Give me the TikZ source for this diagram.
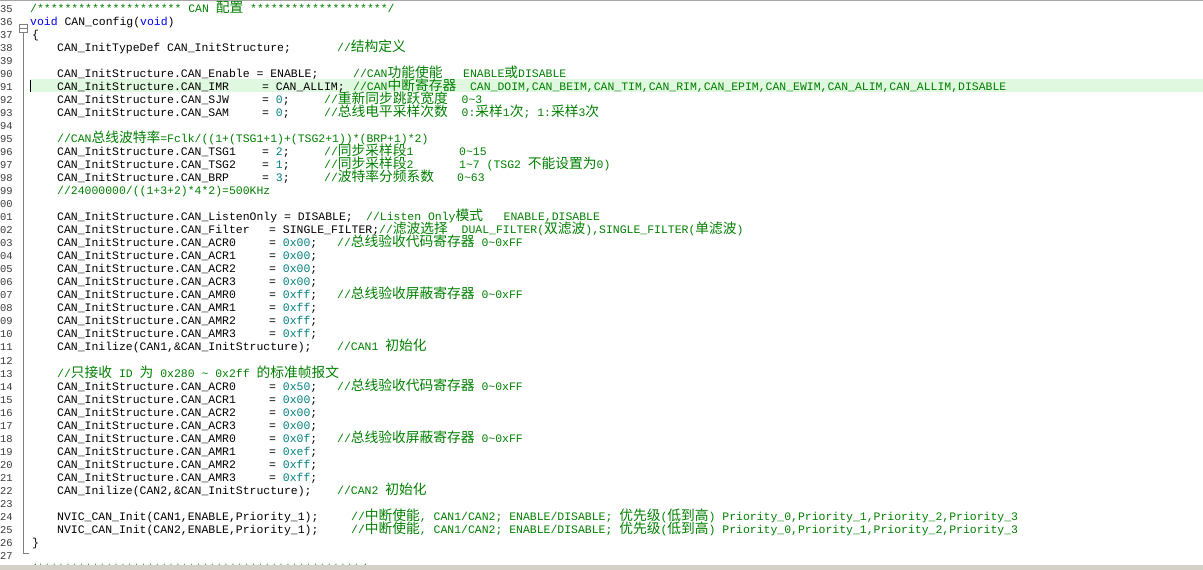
\documentclass[tikz,border=0pt]{standalone}
\usepackage{fontspec}
\setmonofont{Liberation Mono}
\newfontfamily\cjkf{Noto Sans CJK SC}[Scale=1.2]
\newcommand\zh[1]{{\cjkf #1}}
\newcommand\tl{\textasciitilde}
\definecolor{cmt}{RGB}{0,128,0}
\definecolor{num}{RGB}{0,128,128}
\definecolor{kw}{RGB}{0,0,255}
\definecolor{hl}{RGB}{224,248,224}
\definecolor{bar}{RGB}{212,208,200}
\definecolor{lnum}{RGB}{60,60,60}
\tikzset{txt/.style={anchor=base west,inner sep=0pt,font=\ttfamily\fontsize{11.5}{13}\selectfont}}
\newcommand\seg[4][black]{\node[txt,text=#1] (l#2x#3) at (#3,{13+13*#2}) {#4};}
\newcommand\asg[3]{\seg{#1}{57}{CAN\_InitStructure.CAN\_#2}\seg{#1}{269}{= {\color{num}#3};}}
\newcommand\asgb[3]{\seg{#1}{57}{CAN\_InitStructure.CAN\_#2}\seg{#1}{262}{= {\color{num}#3};}}
\begin{document}
\begin{tikzpicture}[x=1bp,y=-1bp]
\fill[white] (0,0) rectangle (1203,570);
\useasboundingbox (0,0) rectangle (1203,570);
\fill[hl] (30,79) rectangle (1203,92);
\draw[black,line width=0.8bp] (30,80) -- (30,92);
\draw[gray!70] (0,0.5) -- (1203,0.5);
% line numbers
\foreach \n [count=\i from 0] in {35,36,37,38,39,90,91,92,93,94,95,96,97,98,99,00,01,02,03,04,05,06,07,08,09,10,11,12,13,14,15,16,17,18,19,20,21,22,23,24,25,26,27,28}
  \node[txt,text=lnum,font=\ttfamily\fontsize{10.5}{13}\selectfont] (n\i) at (0,{13+13*\i}) {\n};
% fold line
\node[draw=gray,minimum size=8bp,inner sep=0pt,fill=white] (fold) at (23,28) {};
\draw[gray] (19.5,28) -- (26.5,28);
\coordinate (foldend) at (29,553);
\draw[gray] (fold.south) |- (foldend);
% code
\seg[cmt]{0}{30}{/********************* CAN \zh{配置} ********************/}
\seg{1}{30}{{\color{kw}void} CAN\_config({\color{kw}void})}
\seg{2}{32}{\{}
\seg{3}{57}{CAN\_InitTypeDef CAN\_InitStructure;}\seg[cmt]{3}{337}{//\zh{结构定义}}
\seg{5}{57}{CAN\_InitStructure.CAN\_Enable = ENABLE;}\seg[cmt]{5}{353}{//CAN\zh{功能使能}\ \ \ ENABLE\zh{或}DISABLE}
\seg{6}{57}{CAN\_InitStructure.CAN\_IMR}\seg{6}{262}{= CAN\_ALLIM;}
\seg[cmt]{6}{353}{//CAN\zh{中断寄存器}\ \ CAN\_DOIM,CAN\_BEIM,CAN\_TIM,CAN\_RIM,CAN\_EPIM,CAN\_EWIM,CAN\_ALIM,CAN\_ALLIM,DISABLE}
\asgb{7}{SJW}{0}\seg[cmt]{7}{324}{//\zh{重新同步跳跃宽度}\ \ 0\tl3}
\asgb{8}{SAM}{0}\seg[cmt]{8}{324}{//\zh{总线电平采样次数}\ \ 0:\zh{采样}1\zh{次}; 1:\zh{采样}3\zh{次}}
\seg[cmt]{10}{57}{//CAN\zh{总线波特率}=Fclk/((1+(TSG1+1)+(TSG2+1))*(BRP+1)*2)}
\asgb{11}{TSG1}{2}\seg[cmt]{11}{324}{//\zh{同步采样段}1}\seg[cmt]{11}{459}{0\tl15}
\asgb{12}{TSG2}{1}\seg[cmt]{12}{324}{//\zh{同步采样段}2}\seg[cmt]{12}{459}{1\tl7 (TSG2 \zh{不能设置为}0)}
\asgb{13}{BRP}{3}\seg[cmt]{13}{324}{//\zh{波特率分频系数}}\seg[cmt]{13}{457}{0\tl63}
\seg[cmt]{14}{57}{//24000000/((1+3+2)*4*2)=500KHz}
\seg{16}{57}{CAN\_InitStructure.CAN\_ListenOnly = DISABLE;}\seg[cmt]{16}{366}{//Listen Only\zh{模式}\ \ \ ENABLE,DISABLE}
\seg{17}{57}{CAN\_InitStructure.CAN\_Filter}
\seg{17}{269}{= SINGLE\_FILTER;{\color{cmt}//\zh{滤波选择}\ \ DUAL\_FILTER(\zh{双滤波}),SINGLE\_FILTER(\zh{单滤波})}}
\asg{18}{ACR0}{0x00}\seg[cmt]{18}{337}{//\zh{总线验收代码寄存器} 0\tl0xFF}
\asg{19}{ACR1}{0x00}
\asg{20}{ACR2}{0x00}
\asg{21}{ACR3}{0x00}
\asg{22}{AMR0}{0xff}\seg[cmt]{22}{337}{//\zh{总线验收屏蔽寄存器} 0\tl0xFF}
\asg{23}{AMR1}{0xff}
\asg{24}{AMR2}{0xff}
\asg{25}{AMR3}{0xff}
\seg{26}{57}{CAN\_Inilize(CAN1,\&CAN\_InitStructure);}\seg[cmt]{26}{337}{//CAN1 \zh{初始化}}
\seg[cmt]{28}{57}{//\zh{只接收} ID \zh{为} 0x280 \tl\ 0x2ff \zh{的标准帧报文}}
\asg{29}{ACR0}{0x50}\seg[cmt]{29}{337}{//\zh{总线验收代码寄存器} 0\tl0xFF}
\asg{30}{ACR1}{0x00}
\asg{31}{ACR2}{0x00}
\asg{32}{ACR3}{0x00}
\asg{33}{AMR0}{0x0f}\seg[cmt]{33}{337}{//\zh{总线验收屏蔽寄存器} 0\tl0xFF}
\asg{34}{AMR1}{0xef}
\asg{35}{AMR2}{0xff}
\asg{36}{AMR3}{0xff}
\seg{37}{57}{CAN\_Inilize(CAN2,\&CAN\_InitStructure);}\seg[cmt]{37}{337}{//CAN2 \zh{初始化}}
\seg{39}{57}{NVIC\_CAN\_Init(CAN1,ENABLE,Priority\_1);}
\seg[cmt]{39}{351}{//\zh{中断使能}, CAN1/CAN2; ENABLE/DISABLE; \zh{优先级}(\zh{低到高}) Priority\_0,Priority\_1,Priority\_2,Priority\_3}
\seg{40}{57}{NVIC\_CAN\_Init(CAN2,ENABLE,Priority\_1);}
\seg[cmt]{40}{351}{//\zh{中断使能}, CAN1/CAN2; ENABLE/DISABLE; \zh{优先级}(\zh{低到高}) Priority\_0,Priority\_1,Priority\_2,Priority\_3}
\seg{41}{32}{\}}
\seg[cmt]{43}{30}{/***********************************************/}
\fill[bar] (0,565) rectangle (1203,570);
\end{tikzpicture}
\end{document}
